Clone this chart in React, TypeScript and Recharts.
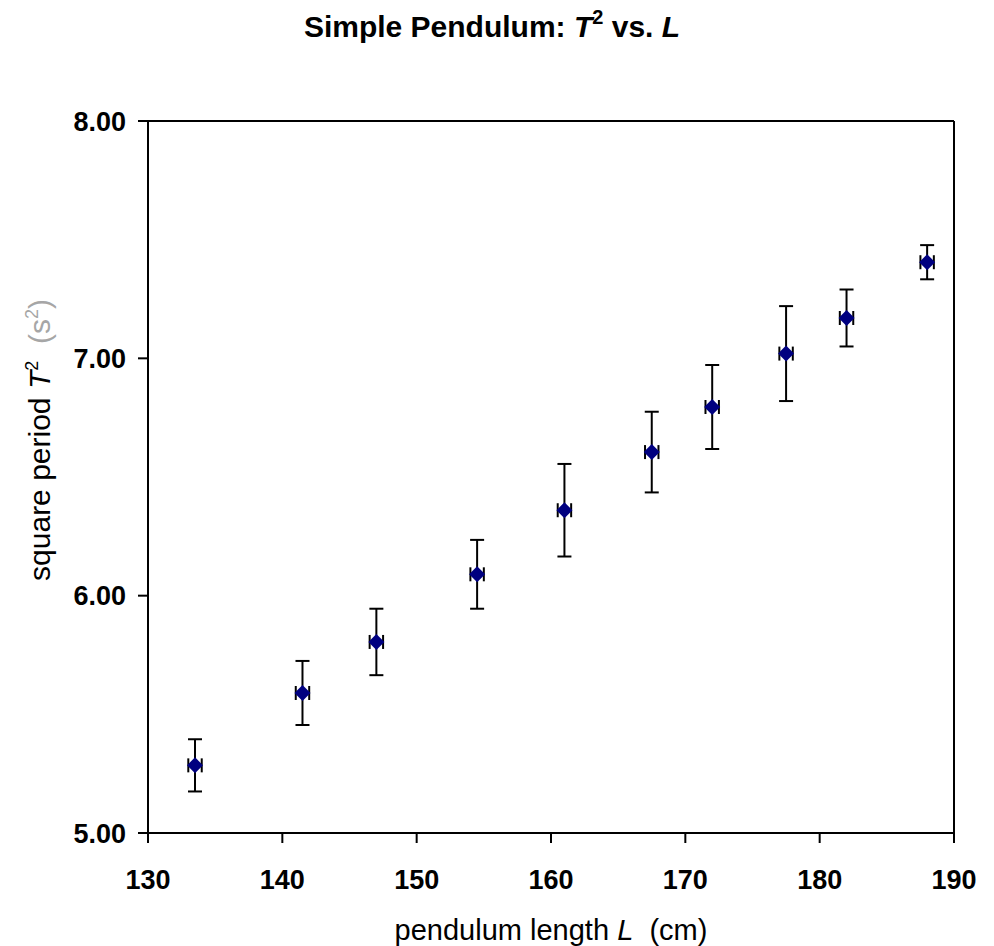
import React from 'react';
import { ScatterChart, Scatter, XAxis, YAxis, ErrorBar, ReferenceLine, Customized } from 'recharts';

const lengths = [133.5, 141.5, 147.0, 154.5, 161.0, 167.5, 172.0, 177.5, 182.0, 188.0];
const periodSq = [5.285, 5.59, 5.805, 6.09, 6.36, 6.605, 6.795, 7.02, 7.17, 7.405];
const periodErr = [0.11, 0.135, 0.14, 0.145, 0.195, 0.17, 0.177, 0.2, 0.12, 0.072];
const lengthErr = [0.5, 0.5, 0.5, 0.5, 0.5, 0.5, 0.5, 0.5, 0.5, 0.5];

const xTicks = [130, 140, 150, 160, 170, 180, 190];
const yTicks = [5, 6, 7, 8];

const FONT = '"Liberation Sans", Arial, Helvetica, sans-serif';

const data = lengths.map((L, i) => ({
  L,
  T2: periodSq[i],
  ex: lengthErr[i],
  ey: periodErr[i],
}));

const Diamond = (props: any) => {
  const { cx, cy } = props;
  const r = 8;
  return (
    <path
      d={`M${cx},${cy - r} L${cx + r},${cy} L${cx},${cy + r} L${cx - r},${cy} Z`}
      fill="#000080"
    />
  );
};

const Labels = () => (
  <g fontFamily={FONT} fill="#000">
    <text x={492} y={37} textAnchor="middle" fontSize={30} fontWeight="bold">
      Simple Pendulum:{'\u00a0'}
      <tspan fontStyle="italic">T</tspan>
      <tspan dy={-13} fontSize={20}>2</tspan>
      <tspan dy={13}>{'\u00a0'}vs.{'\u00a0'}</tspan>
      <tspan fontStyle="italic">L</tspan>
    </text>
    <text x={551} y={940} textAnchor="middle" fontSize={29}>
      pendulum length{'\u00a0'}
      <tspan fontStyle="italic">L</tspan>
      {'\u00a0\u00a0'}(cm)
    </text>
    <text x={50} y={440} textAnchor="middle" fontSize={30} transform="rotate(-90, 50, 440)">
      square period{'\u00a0'}
      <tspan fontStyle="italic">T</tspan>
      <tspan dy={-12} fontSize={18}>2</tspan>
      <tspan dy={12}>{'\u00a0\u00a0'}</tspan>
      <tspan fill="#a6a6a6">(s</tspan>
      <tspan fill="#a6a6a6" dy={-12} fontSize={18}>2</tspan>
      <tspan fill="#a6a6a6" dy={12}>)</tspan>
    </text>
  </g>
);

export default function App() {
  return (
    <div style={{ position: 'absolute', left: 0, top: 0, background: '#fff' }}>
      <ScatterChart
        width={994}
        height={946}
        margin={{ top: 121, right: 40, bottom: 0, left: 0 }}
      >
        <XAxis
          type="number"
          dataKey="L"
          domain={[130, 190]}
          ticks={xTicks}
          height={113}
          tickSize={10}
          tickMargin={27}
          axisLine={{ stroke: '#000', strokeWidth: 2 }}
          tickLine={{ stroke: '#000', strokeWidth: 2 }}
          tick={{ fill: '#000', fontSize: 27, fontWeight: 'bold', fontFamily: FONT }}
          allowDataOverflow
        />
        <YAxis
          type="number"
          dataKey="T2"
          domain={[5, 8]}
          ticks={yTicks}
          width={148}
          tickSize={10}
          tickMargin={12}
          tickFormatter={(v: number) => v.toFixed(2)}
          axisLine={{ stroke: '#000', strokeWidth: 2 }}
          tickLine={{ stroke: '#000', strokeWidth: 2 }}
          tick={{ fill: '#000', fontSize: 27, fontWeight: 'bold', fontFamily: FONT }}
          allowDataOverflow
        />
        <ReferenceLine y={8} stroke="#000" strokeWidth={2} />
        <ReferenceLine x={190} stroke="#000" strokeWidth={2} />
        <Scatter data={data} shape={Diamond} isAnimationActive={false}>
          <ErrorBar dataKey="ey" direction="y" width={7} stroke="#000" strokeWidth={2} isAnimationActive={false} />
          <ErrorBar dataKey="ex" direction="x" width={7} stroke="#000" strokeWidth={2} isAnimationActive={false} />
        </Scatter>
        <Customized component={Labels} />
      </ScatterChart>
    </div>
  );
}
